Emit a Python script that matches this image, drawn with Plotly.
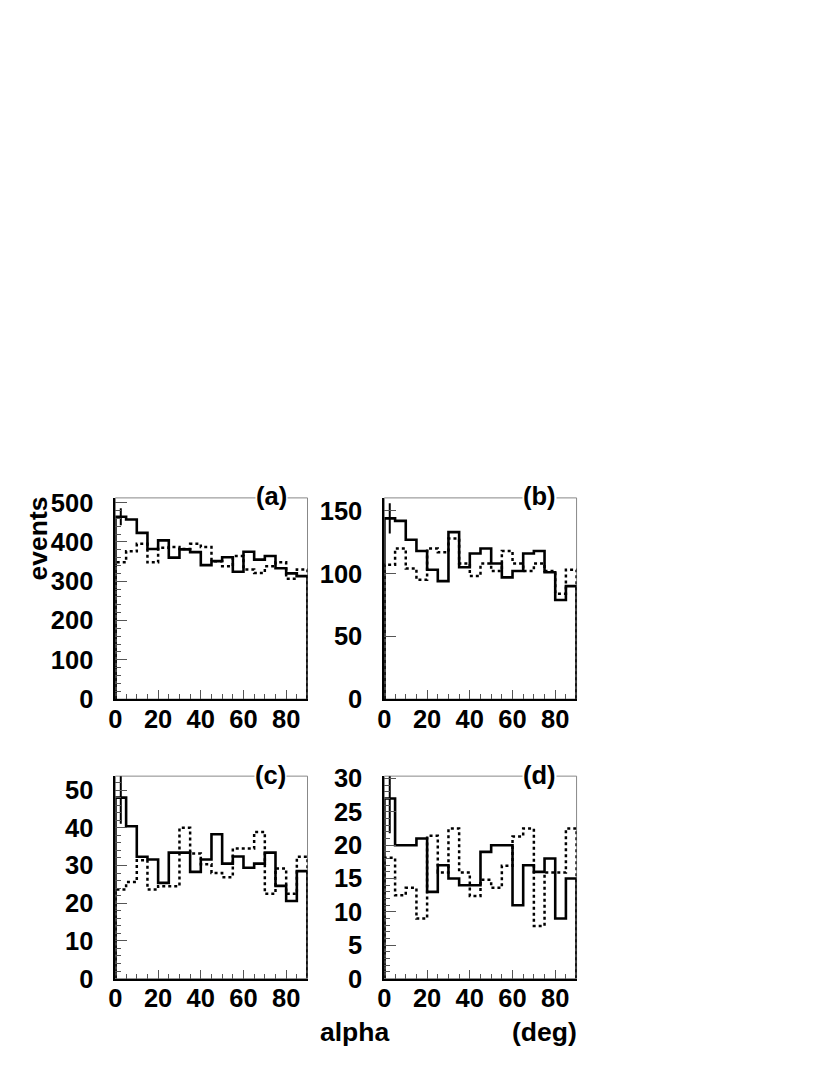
import math
import plotly.graph_objects as go

# bin edges in degrees (18 bins of 5 deg)
bin_edges = list(range(0, 95, 5))

# panel (a)
solid_a = [464, 457, 423, 382, 404, 360, 381, 374, 341, 351, 361, 324, 375, 355, 364, 333, 320, 313]
dotted_a = [348, 376, 395, 348, 385, 387, 382, 395, 387, 351, 338, 364, 330, 321, 338, 348, 306, 330]
# panel (b)
solid_b = [144, 142, 127, 118, 103, 94, 133, 105, 116, 120, 108, 97, 102, 116, 118, 101, 79, 90]
dotted_b = [107, 120, 104, 95, 120, 117, 128, 108, 98, 108, 102, 118, 108, 102, 108, 102, 84, 103]
# panel (c)
solid_c = [48, 40.4, 32.3, 31.6, 25.4, 33.4, 33.4, 28.3, 31.6, 38.3, 30.5, 32.4, 29.4, 30.5, 33.4, 24.6, 20.6, 28.5]
dotted_c = [23.6, 25.6, 31.4, 23.6, 24.5, 24.5, 40, 33.2, 30.3, 28, 26.9, 34.5, 34.5, 38.9, 22.5, 29.2, 22.5, 32.3]
# panel (d)
solid_d = [27, 20, 20, 21, 13, 17, 15, 14, 14, 19, 20, 20, 11, 17, 16, 18, 9, 15]
dotted_d = [18.1, 12.5, 13.6, 9, 21.4, 15.9, 22.5, 15.9, 12.4, 14.8, 13.6, 16.9, 21.3, 22.5, 7.9, 15.9, 15.9, 22.5]

panel_labels = ["(a)", "(b)", "(c)", "(d)"]
y_max = [512, 160.3, 53.7, 30.35]
y_dtick = [100, 50, 10, 5]
y_minor = [20, None, 2, 1]

W, H = 830, 1075
FONT = "Liberation Sans, Arial, sans-serif"

# the photographed page is slightly offset/scaled against the figure,
# so positions are given in picture pixels and mapped back here
SX, OX = 0.9928, 14.43
SY, OY = 0.975, 20.5


def px(x):
    return (x - OX) / SX / W


def py(y):
    return 1 - (y - OY) / SY / H


def step(vals):
    xs = [bin_edges[0]] + bin_edges[:-1] + [bin_edges[-1], bin_edges[-1]]
    ys = [0] + list(vals) + [vals[-1], 0]
    return xs, ys


# panel boxes in picture pixels: left, right, top, bottom
boxes = [(115, 307.3, 498, 699), (384.3, 576.7, 498, 699),
         (115, 307.3, 776, 978.3), (384.3, 576.7, 776, 978.3)]
label_pos = [(271, 496), (540, 496), (270, 775), (540, 775)]

series = [(solid_a, dotted_a), (solid_b, dotted_b), (solid_c, dotted_c), (solid_d, dotted_d)]

fig = go.Figure()
layout = dict(width=W, height=H, margin=dict(l=0, r=0, t=0, b=0),
              plot_bgcolor="white", paper_bgcolor="white", showlegend=False,
              shapes=[], annotations=[])

tickfont = dict(family=FONT, size=25.5, color="black", weight="bold")
title_font = dict(family=FONT, size=26.5, color="black", weight="bold")

for i, ((solid, dotted), box) in enumerate(zip(series, boxes)):
    n = "" if i == 0 else str(i + 1)
    xr, yr = "x" + n, "y" + n
    x0, x1, y0, y1 = box

    xs, ys = step(dotted)
    fig.add_trace(go.Scatter(x=xs, y=ys, mode="lines", line_shape="hv",
                             line=dict(color="black", width=2.5, dash="3px,3px"),
                             xaxis=xr, yaxis=yr, hoverinfo="skip"))
    xs, ys = step(solid)
    fig.add_trace(go.Scatter(x=xs, y=ys, mode="lines", line_shape="hv",
                             line=dict(color="black", width=2.6),
                             xaxis=xr, yaxis=yr, hoverinfo="skip"))
    # error bar on the first bin
    fig.add_trace(go.Scatter(x=[(bin_edges[0] + bin_edges[1]) / 2], y=[solid[0]], mode="markers",
                             marker=dict(size=1, color="black"),
                             error_y=dict(type="data", array=[math.sqrt(solid[0])],
                                          width=0, thickness=2, color="black"),
                             xaxis=xr, yaxis=yr, hoverinfo="skip"))

    layout["xaxis" + n] = dict(
        domain=[px(x0), px(x1)], range=[0, 90], anchor=yr,
        tickmode="array", tickvals=[0, 20, 40, 60, 80], ticks="inside", ticklen=9,
        tickcolor="#555", tickwidth=1, showgrid=False, zeroline=False,
        showline=True, linecolor="black", linewidth=2,
        tickfont=tickfont, ticklabelstandoff=-4,
        minor=dict(dtick=5, tick0=0, ticks="inside", ticklen=5, tickcolor="#555", showgrid=False))
    ymin = dict(dtick=y_minor[i], tick0=0, ticks="inside", ticklen=6,
                tickcolor="#555", showgrid=False) if y_minor[i] else dict(ticks="")
    layout["yaxis" + n] = dict(
        domain=[py(y1), py(y0)], range=[0, y_max[i]], anchor=xr,
        tickmode="linear", tick0=0, dtick=y_dtick[i], ticks="inside", ticklen=12,
        tickcolor="#555", tickwidth=1, showgrid=False, zeroline=False,
        showline=True, linecolor="black", linewidth=2,
        tickfont=tickfont, ticklabelstandoff=15, minor=ymin)

    # thin grey frame on top and right
    layout["shapes"].append(dict(type="rect", xref=xr + " domain", yref=yr + " domain",
                                 x0=0, x1=1, y0=0, y1=1, layer="below",
                                 line=dict(color="#888", width=1)))
    lx, ly = label_pos[i]
    layout["annotations"].append(dict(
        text=panel_labels[i], xref="paper", yref="paper", x=px(lx), y=py(ly),
        showarrow=False, xanchor="center", yanchor="middle", bgcolor="white",
        borderpad=0, font=tickfont))

layout["annotations"] += [
    dict(text="events", xref="paper", yref="paper", x=px(37), y=py(539), textangle=-90,
         showarrow=False, xanchor="center", yanchor="middle", font=title_font),
    dict(text="alpha", xref="paper", yref="paper", x=px(354), y=py(1032),
         showarrow=False, xanchor="center", yanchor="middle", font=title_font),
    dict(text="(deg)", xref="paper", yref="paper", x=px(545), y=py(1032),
         showarrow=False, xanchor="center", yanchor="middle", font=title_font),
]

fig.update_layout(**layout)
fig.write_html("out.html")
